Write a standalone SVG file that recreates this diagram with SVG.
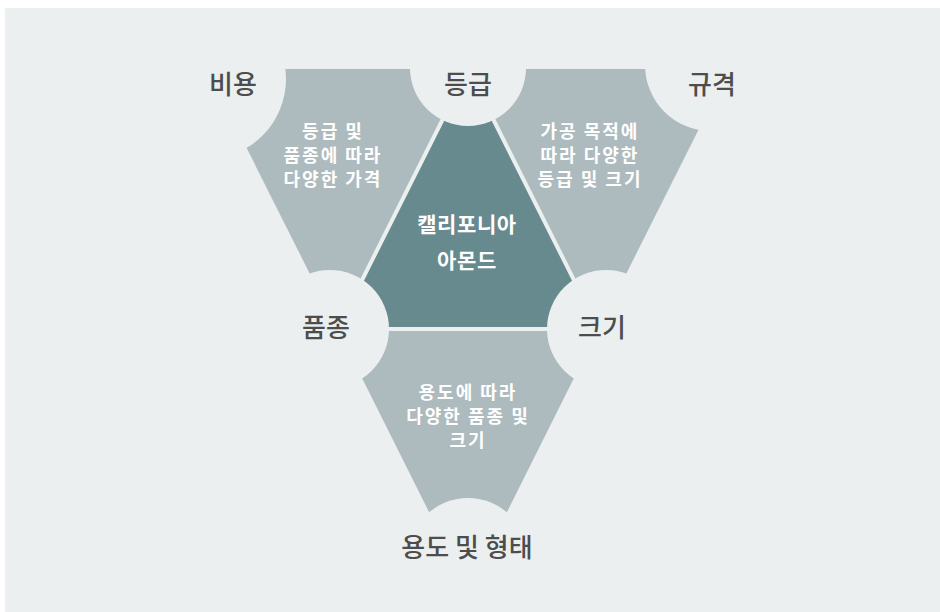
<svg xmlns="http://www.w3.org/2000/svg" width="940" height="612" viewBox="0 0 940 612">
  <defs>
    <clipPath id="panel"><rect x="5" y="8" width="935" height="604"/></clipPath>
    <style>
      .pent { fill: #ADBBBE; }
      .core { fill: #678A8F; stroke: #EBEFF0; stroke-width: 4; stroke-linejoin: miter; }
      .hole { fill: #EBEFF0; }
      .lbl { font-family: "Noto Sans CJK KR", "Noto Sans", sans-serif; font-size: 26px; font-weight: 500; fill: #4D4D4D; text-anchor: middle; dominant-baseline: central; }
      .ptxt { font-family: "Noto Sans CJK KR", "Noto Sans", sans-serif; font-size: 18px; letter-spacing: 2px; font-weight: bold; fill: #FFFFFF; text-anchor: middle; dominant-baseline: central; }
      .ctxt { font-family: "Noto Sans CJK KR", "Noto Sans", sans-serif; font-size: 21px; letter-spacing: 0.6px; font-weight: bold; fill: #FFFFFF; text-anchor: middle; dominant-baseline: central; }
    </style>
  </defs>
  <rect x="0" y="0" width="940" height="612" fill="#FFFFFF"/>
  <rect x="5" y="8" width="935" height="604" fill="#EBEFF0"/>
  <g clip-path="url(#panel)">
    <g id="pentagon-cost">
      <polygon class="pent" points="207,69 468,69 337.5,329"/>
    </g>
    <g id="pentagon-spec">
      <polygon class="pent" points="468,69 729,69 598.5,329"/>
    </g>
    <g id="pentagon-use">
      <polygon class="pent" points="337.5,329 598.5,329 468,590"/>
    </g>
    <g id="core">
      <polygon class="core" points="468,69 598.5,329 337.5,329"/>
    </g>
    <g id="connectors"></g>
    <g id="node-cost"><circle class="hole" cx="206" cy="79" r="80"/></g>
    <g id="node-grade"><circle class="hole" cx="468" cy="68" r="58"/></g>
    <g id="node-spec"><circle class="hole" cx="711" cy="65" r="66"/></g>
    <g id="node-variety"><circle class="hole" cx="330" cy="329" r="59"/></g>
    <g id="node-size"><circle class="hole" cx="606" cy="329" r="59"/></g>
    <g id="node-use"><circle class="hole" cx="468" cy="558" r="60"/></g>
  </g>
  <g id="labels">
    <text class="lbl" x="233" y="82">비용</text>
    <text class="lbl" x="468" y="82">등급</text>
    <text class="lbl" x="712" y="82">규격</text>
    <text class="lbl" x="326" y="325">품종</text>
    <text class="lbl" x="602" y="325">크기</text>
    <text class="lbl" x="467" y="545">용도 및 형태</text>
  </g>
  <g id="texts">
    <text class="ptxt" x="333" y="130">등급 및</text>
    <text class="ptxt" x="333" y="154">품종에 따라</text>
    <text class="ptxt" x="333" y="178">다양한 가격</text>
    <text class="ptxt" x="590" y="130">가공 목적에</text>
    <text class="ptxt" x="590" y="154">따라 다양한</text>
    <text class="ptxt" x="590" y="178">등급 및 크기</text>
    <text class="ptxt" x="468" y="391">용도에 따라</text>
    <text class="ptxt" x="468" y="415">다양한 품종 및</text>
    <text class="ptxt" x="468" y="439">크기</text>
    <text class="ctxt" x="467" y="223">캘리포니아</text>
    <text class="ctxt" x="467" y="259">아몬드</text>
  </g>
</svg>
